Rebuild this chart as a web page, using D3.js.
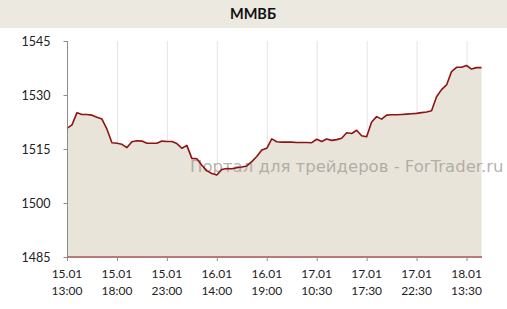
<html>
  <head>
    <meta charset="utf-8" />
    <title>ММВБ</title>
    <script src="https://d3js.org/d3.v7.min.js"></script>
    <style type="text/css">
      body { margin: 0; background: #fff; }
      text { font-family: Lato, "Open Sans", sans-serif; }
    </style>
  </head>
  <body>
    <div id="chart"></div>
    <script type="text/javascript">
      // index values (one point ~ every 5px)
      var prices = [
        1520.75, 1521.7, 1525.1, 1524.6, 1524.6, 1524.4, 1523.8, 1523.3, 1520.5, 1516.75,
        1516.6, 1516.3, 1515.4, 1517.0, 1517.3, 1517.2, 1516.6, 1516.6, 1516.6, 1517.2,
        1517.1, 1517.1, 1516.5, 1515.2, 1516.0, 1512.4, 1512.3, 1510.5, 1509.0, 1508.2,
        1507.8, 1509.3, 1509.6, 1509.5, 1509.8, 1510.0, 1510.3, 1511.5, 1512.9, 1514.7,
        1515.2, 1517.8, 1517.0, 1516.9, 1516.9, 1516.9, 1516.8, 1516.8, 1516.8, 1516.75,
        1517.7, 1517.1, 1517.8, 1517.4, 1517.6, 1518.0, 1519.5, 1519.3, 1520.2, 1518.7,
        1518.4, 1522.5, 1524.0, 1523.3, 1524.4, 1524.5, 1524.5, 1524.6, 1524.7, 1524.8,
        1524.9, 1525.1, 1525.3, 1525.6, 1529.5, 1531.5, 1532.8, 1536.5, 1537.7, 1537.7,
        1538.2, 1537.2, 1537.6, 1537.6
      ];
      var tickIndex = [0, 10, 20, 30, 40, 50, 60, 70, 80];
      var tickDates = ["15.01", "15.01", "15.01", "16.01", "16.01", "17.01", "17.01", "17.01", "18.01"];
      var tickTimes = ["13:00", "18:00", "23:00", "14:00", "19:00", "10:30", "17:30", "22:30", "13:30"];
      var yTicks = [1485, 1500, 1515, 1530, 1545];

      var width = 507, height = 309;
      var plotLeft = 67, plotTop = 41, plotBottom = 257;

      var svg = d3.select("#chart").append("svg")
          .attr("width", width)
          .attr("height", height);

      // title bar
      svg.append("rect")
          .attr("x", 0).attr("y", 0)
          .attr("width", width).attr("height", 28)
          .style("fill", "#ece9e1");
      svg.append("text")
          .attr("x", 253).attr("y", 19)
          .attr("text-anchor", "middle")
          .style("font-size", "14.5px")
          .style("font-weight", "bold")
          .style("fill", "#111")
          .text("ММВБ");

      var x = d3.scaleLinear()
          .domain([0, prices.length - 1])
          .range([plotLeft, 481.5]);
      var y = d3.scaleLinear()
          .domain([1485, 1545])
          .range([plotBottom, plotTop]);

      // vertical grid lines
      svg.append("g").selectAll("line")
          .data(tickIndex.slice(1))
          .enter().append("line")
          .attr("x1", function(d) { return x(d) + 0.5; })
          .attr("x2", function(d) { return x(d) + 0.5; })
          .attr("y1", plotTop)
          .attr("y2", plotBottom)
          .style("stroke", "#e4e4e4")
          .style("stroke-width", 1);

      var area = d3.area()
          .x(function(d, i) { return x(i); })
          .y0(plotBottom)
          .y1(function(d) { return y(d); });
      var line = d3.line()
          .x(function(d, i) { return x(i); })
          .y(function(d) { return y(d); });

      svg.append("path")
          .datum(prices)
          .attr("d", area)
          .style("fill", "#e9e4da");

      // watermark
      svg.append("text")
          .attr("x", 190).attr("y", 172)
          .style("font-family", "'DejaVu Sans', sans-serif")
          .style("font-size", "16.5px")
          .style("fill", "#a8a39c")
          .style("fill-opacity", 0.85)
          .text("Портал для трейдеров - ForTrader.ru");

      svg.append("path")
          .datum(prices)
          .attr("d", line)
          .style("fill", "none")
          .style("stroke", "#8e1414")
          .style("stroke-width", 1.6)
          .style("stroke-linejoin", "round");

      // y axis
      var yAxis = d3.axisLeft(y)
          .tickValues(yTicks)
          .tickSize(4)
          .tickPadding(13)
          .tickFormat(d3.format("d"));
      var gy = svg.append("g")
          .attr("transform", "translate(" + (plotLeft + 0.5) + ",0)")
          .call(yAxis);
      gy.select(".domain").style("stroke", "#8c8c8c").attr("d", "M0," + plotTop + "V" + plotBottom);
      gy.selectAll(".tick line").style("stroke", "#8c8c8c");
      gy.selectAll("text")
          .style("font-size", "12.5px")
          .style("fill", "#222")
          .style("font-family", "Lato, sans-serif");

      // x axis
      var xAxis = d3.axisBottom(x)
          .tickValues(tickIndex)
          .tickSize(4)
          .tickFormat("");
      var gx = svg.append("g")
          .attr("transform", "translate(0," + plotBottom + ")")
          .call(xAxis);
      gx.select(".domain").remove();
      gx.selectAll(".tick line").style("stroke", "#8c8c8c");
      svg.append("line")
          .attr("x1", plotLeft).attr("x2", 482)
          .attr("y1", plotBottom).attr("y2", plotBottom)
          .style("stroke", "#b97a7a")
          .style("stroke-width", 2);

      var labels = svg.append("g").selectAll("text")
          .data(tickIndex)
          .enter().append("text")
          .attr("text-anchor", "middle")
          .style("font-size", "12px")
          .style("fill", "#222")
          .attr("transform", function(d) { return "translate(" + x(d) + ",0)"; });
      labels.append("tspan")
          .attr("x", 0).attr("y", 278)
          .text(function(d, i) { return tickDates[i]; });
      labels.append("tspan")
          .attr("x", 0).attr("y", 295)
          .text(function(d, i) { return tickTimes[i]; });
    </script>
  </body>
</html>
